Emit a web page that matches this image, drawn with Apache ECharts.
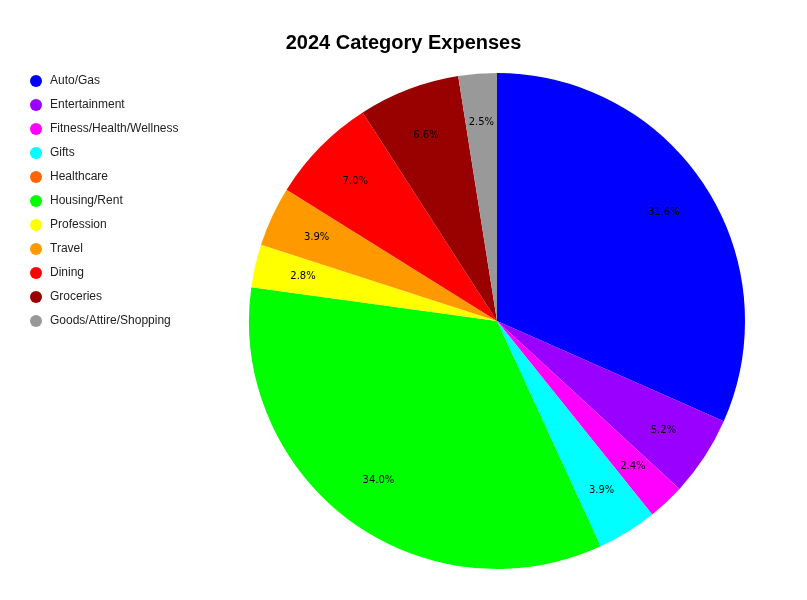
<!DOCTYPE html>
<html>
<head>
<meta charset="utf-8">
<script src="https://cdn.jsdelivr.net/npm/echarts@6/dist/echarts.min.js"></script>
<style>
  html, body { margin: 0; padding: 0; background: #fff; }
  #chart { width: 807px; height: 600px; }
</style>
</head>
<body>
<div id="chart"></div>
<script>
const categories = ['Auto/Gas', 'Entertainment', 'Fitness/Health/Wellness', 'Gifts', 'Healthcare',
  'Housing/Rent', 'Profession', 'Travel', 'Dining', 'Groceries', 'Goods/Attire/Shopping']
const shares = [31.6, 5.2, 2.4, 3.9, 0, 34.0, 2.8, 3.9, 7.0, 6.6, 2.5]
const colors = ['#0000ff', '#9900ff', '#ff00ff', '#00ffff', '#ff6600',
  '#00ff00', '#ffff00', '#ff9900', '#ff0000', '#990000', '#999999']

const total = shares.reduce((a, b) => a + b, 0)
const pieData = categories.map((name, i) => ({ name, value: shares[i] }))

const myChart = echarts.init(document.getElementById('chart'))
// 饼图 + 透明层用来放百分比标签
myChart.setOption({
  color: colors,
  animation: false,
  title: {
    text: '2024 Category Expenses',
    left: 'center',
    top: 28,
    textStyle: { fontFamily: 'Liberation Sans', fontSize: 20, fontWeight: 'bold', color: '#000' }
  },
  legend: {
    orient: 'vertical',
    left: 25,
    top: 70,
    icon: 'circle',
    itemWidth: 12,
    itemHeight: 12,
    itemGap: 12,
    data: categories,
    textStyle: { fontFamily: 'Liberation Sans', fontSize: 12, color: '#222', padding: [0, 0, 0, 3] }
  },
  series: [
    {
      type: 'pie',
      center: [497, 321],
      radius: [0, 248],
      startAngle: 90,
      clockwise: true,
      label: { show: false },
      labelLine: { show: false },
      data: pieData
    },
    {
      type: 'pie',
      center: [497, 321],
      radius: [144, 248],
      startAngle: 90,
      clockwise: true,
      silent: true,
      legendHoverLink: false,
      itemStyle: { color: 'transparent' },
      label: {
        show: true,
        position: 'inside',
        fontFamily: 'DejaVu Sans',
        fontSize: 10,
        color: '#000',
        formatter: p => p.value > 0 ? (p.value / total * 100).toFixed(1) + '%' : ''
      },
      labelLine: { show: false },
      data: pieData.map(d => ({ name: d.name + ' ', value: d.value }))
    }
  ]
})
</script>
</body>
</html>
